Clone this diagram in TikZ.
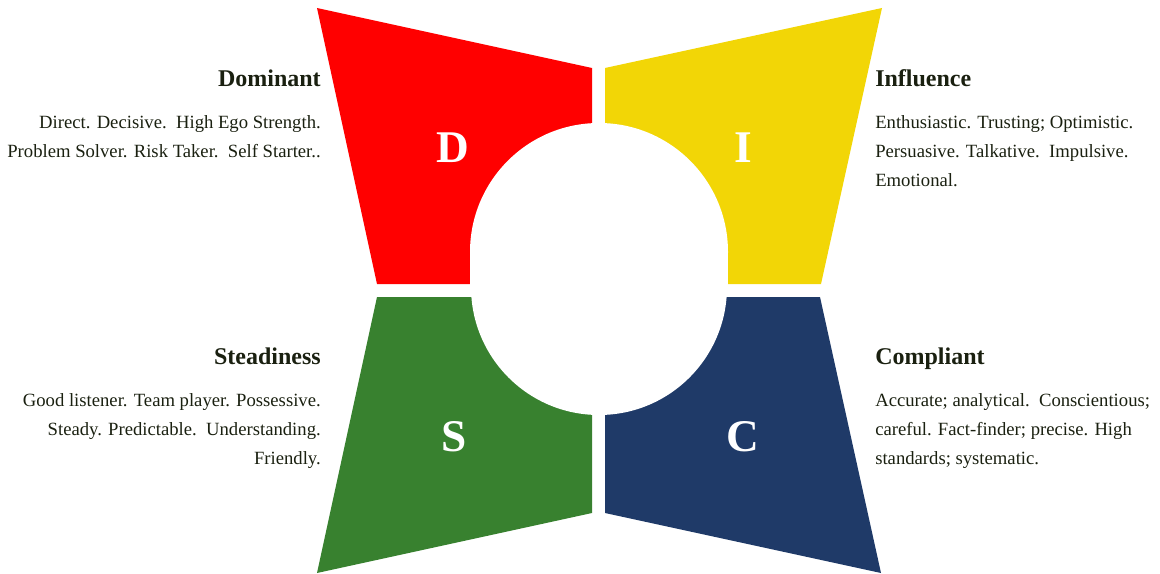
\documentclass[tikz,border=0pt]{standalone}
\usepackage{fontspec}
\setmainfont{Liberation Serif}
\usepackage{xcolor}

\definecolor{discred}{RGB}{255,0,0}
\definecolor{discyellow}{RGB}{242,214,6}
\definecolor{discgreen}{RGB}{56,129,47}
\definecolor{discnavy}{RGB}{31,58,104}
\definecolor{textdark}{RGB}{26,32,16}

\begin{document}
\begin{tikzpicture}[x=0.75pt,y=-0.75pt,
  letter/.style={font=\fontsize{34}{40}\selectfont\bfseries, text=white},
  heading/.style={font=\fontsize{18}{22}\selectfont\bfseries, text=textdark, inner sep=0pt},
  traits/.style={font=\fontsize{14}{21.75}\selectfont, text=textdark, inner sep=0pt, align=#1},
  traits/.default=left]

\useasboundingbox (0,0) rectangle (1160,574);

% the four quadrants
\fill[discred]    (317,8)   -- (592,68)  -- (592,284) -- (377,284) -- cycle;
\fill[discyellow] (605,68)  -- (882,8)   -- (821,284) -- (605,284) -- cycle;
\fill[discgreen]  (377,297) -- (592,297) -- (592,513) -- (317,573) -- cycle;
\fill[discnavy]   (605,297) -- (820,297) -- (881,573) -- (605,513) -- cycle;

% hole in the middle (two half circles and a band)
\fill[white] (599,252) circle [radius=129];
\fill[white] (599,287) circle [radius=128];
\fill[white] (470,252) rectangle (728,287);

% letters
\node[letter] (dletter) at (453,148) {D};
\node[letter] (iletter) at (743,148) {I};
\node[letter] (sletter) at (454,437) {S};
\node[letter] (cletter) at (743,437) {C};

% left side texts
\node[heading, anchor=base east] (dominant) at (321,87) {Dominant};
\node[traits=right, anchor=north east] (dominanttxt) at (321,115)
  {Direct. Decisive.\ \ High Ego Strength.\\Problem Solver. Risk Taker.\ \ Self Starter..};

\node[heading, anchor=base east] (steadiness) at (321,364) {Steadiness};
\node[traits=right, anchor=north east] (steadinesstxt) at (321,393)
  {Good listener. Team player. Possessive.\\Steady. Predictable.\ \ Understanding.\\Friendly.};

% right side texts
\node[heading, anchor=base west] (influence) at (875,87) {Influence};
\node[traits, anchor=north west] (influencetxt) at (875,115)
  {Enthusiastic. Trusting; Optimistic.\\Persuasive. Talkative.\ \ Impulsive.\\Emotional.};

\node[heading, anchor=base west] (compliant) at (875,364) {Compliant};
\node[traits, anchor=north west] (complianttxt) at (875,393)
  {Accurate; analytical.\ \ Conscientious;\\careful. Fact-finder; precise. High\\standards; systematic.};

\end{tikzpicture}
\end{document}
